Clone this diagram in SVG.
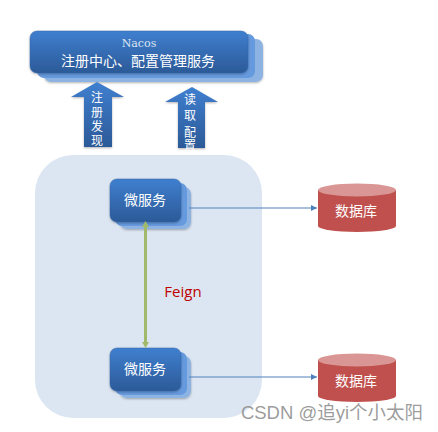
<svg xmlns="http://www.w3.org/2000/svg" width="438" height="432" viewBox="0 0 438 432">
<style>
text{font-family:"Liberation Sans","Noto Sans CJK SC",sans-serif;fill:#fff;text-anchor:middle}
.back{fill:#8db3e2}.mid{fill:#669ade}
.front{fill:url(#blue);stroke:#3566a6;stroke-width:.5}
.arrowshape{fill:url(#blue)}
.body{fill:#c0504d}.top{fill:#d99694}
.flow{stroke:#4f81bd;stroke-width:1.100;fill:none;marker-end:url(#tri)}
.cjk{font-size:14px}.v{font-size:12px}
</style>
<defs>
<linearGradient id="blue" x1="0" y1="0" x2="0" y2="1"><stop offset="0" stop-color="#3f7fcf"/><stop offset="1" stop-color="#2c5a98"/></linearGradient>
<marker id="tri" markerUnits="userSpaceOnUse" markerWidth="7" markerHeight="6" refX="6" refY="3" orient="auto"><path d="M0 0L6 3L0 6z" fill="#4f81bd"/></marker>
<filter id="sh" x="-10%" y="-10%" width="125%" height="130%"><feDropShadow dx="0" dy="1" stdDeviation="1" flood-color="#000" flood-opacity=".3"/></filter>
</defs>
<rect id="panel" x="35" y="155" width="227" height="263" rx="38" fill="#dce6f2"/>
<g id="nacos">
<rect class="back" x="44" y="39" width="219" height="43" rx="7" filter="url(#sh)"/>
<rect class="mid" x="37" y="34" width="218" height="44" rx="7"/>
<rect class="front" x="30" y="31" width="218" height="42" rx="7" filter="url(#sh)"/>
<text x="139" y="47" font-size="11" style="font-family:'DejaVu Serif','Liberation Serif',serif;fill:#dce6f2">Nacos</text>
<text class="cjk" x="138" y="66">注册中心、配置管理服务</text>
</g>
<g id="register">
<path class="arrowshape" d="M97 82L124 97H112V147H84V97H71Z" filter="url(#sh)"/>
<text class="v" x="97" y="102">注</text><text class="v" x="97" y="117">册</text><text class="v" x="97" y="131">发</text><text class="v" x="97" y="145">现</text>
</g>
<g id="read">
<path class="arrowshape" d="M192 87L218 102H205V148H178V102H165Z" filter="url(#sh)"/>
<text class="v" x="190" y="104">读</text><text class="v" x="190" y="120">取</text><text class="v" x="190" y="137">配</text><text class="v" x="190" y="150">置</text>
</g>
<g id="service1">
<rect class="back" x="120" y="187" width="71" height="42" rx="7" filter="url(#sh)"/>
<rect class="mid" x="115" y="183" width="72" height="43" rx="7"/>
<rect class="front" x="110" y="179" width="71" height="43" rx="7" filter="url(#sh)"/>
<text class="cjk" x="145" y="205">微服务</text>
</g>
<g id="service2">
<rect class="back" x="120" y="356" width="71" height="42" rx="7" filter="url(#sh)"/>
<rect class="mid" x="115" y="352" width="72" height="43" rx="7"/>
<rect class="front" x="110" y="348" width="71" height="43" rx="7" filter="url(#sh)"/>
<text class="cjk" x="145" y="374">微服务</text>
</g>
<g id="db1">
<path class="body" d="M318 190V226A39 6 0 0 0 396 226V190Z"/>
<ellipse class="top" cx="357" cy="190" rx="39" ry="6.500"/>
<text class="cjk" x="356" y="216">数据库</text>
</g>
<g id="db2">
<path class="body" d="M318 360V396A39 6 0 0 0 396 396V360Z"/>
<ellipse class="top" cx="357" cy="360" rx="39" ry="6.500"/>
<text class="cjk" x="356" y="386">数据库</text>
</g>
<g id="connectors">
<path class="flow" d="M189 208H317"/>
<path class="flow" d="M189 377H317"/>
<path d="M145.500 227V342" stroke="#a0b96b" stroke-width="3" fill="none"/>
<path d="M145.500 221L149 227H142ZM145.500 348L149 342H142Z" fill="#a0b96b"/>
</g>
<text id="feign" x="183" y="297" font-size="15" style="font-family:'Open Sans',sans-serif;fill:#c00000">Feign</text>
<text id="watermark" x="332" y="419" font-size="18.500" style="fill:#8a8a8a;fill-opacity:.85">CSDN @追yi个小太阳</text>
</svg>
